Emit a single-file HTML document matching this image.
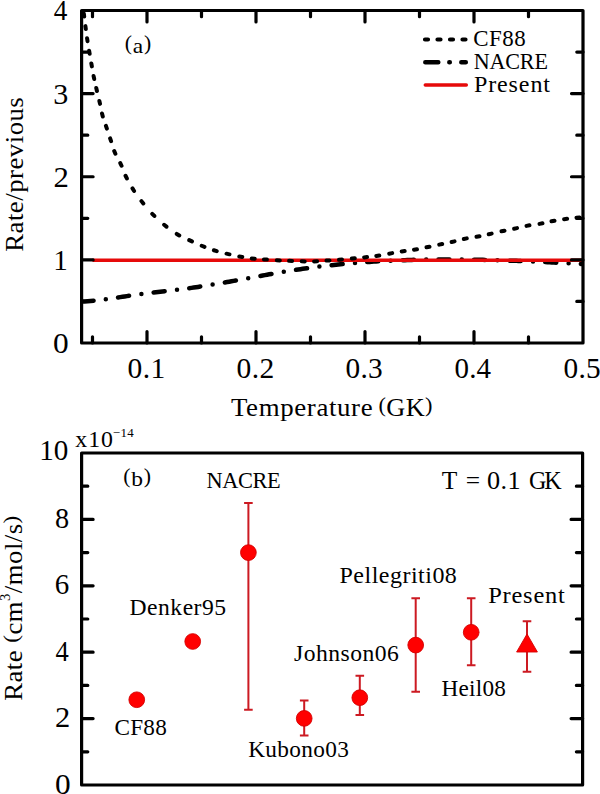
<!DOCTYPE html><html><head><meta charset="utf-8"><style>html,body{margin:0;padding:0;background:#fff;}svg{display:block;}text{font-family:"Liberation Serif", serif;fill:#000;}</style></head><body>
<svg width="600" height="794" viewBox="0 0 600 794">
<rect width="600" height="794" fill="#fff"/>
<defs><clipPath id="ca"><rect x="81.6" y="10.5" width="501.4" height="332.5"/></clipPath></defs>
<g clip-path="url(#ca)" fill="none">
<path d="M78.60,301.73 L81.59,301.61 L84.58,301.44 L87.57,301.24 L90.56,300.99 L93.55,300.71 M118.05,297.49 L120.25,297.15 L122.45,296.81 L124.65,296.47 L126.85,296.13 L129.05,295.80 M153.65,292.42 L155.85,292.16 L158.05,291.90 L160.25,291.65 L162.45,291.40 L164.65,291.15 M189.25,288.18 L191.45,287.88 L193.65,287.56 L195.85,287.25 L198.05,286.92 L200.25,286.59 M224.85,282.48 L227.05,282.09 L229.25,281.69 L231.45,281.30 L233.65,280.89 L235.85,280.49 M260.45,275.93 L262.65,275.53 L264.85,275.13 L267.05,274.73 L269.25,274.33 L271.45,273.94 M296.05,269.83 L298.25,269.50 L300.45,269.17 L302.65,268.85 L304.85,268.54 L307.05,268.23 M331.65,265.19 L333.85,264.96 L336.05,264.73 L338.25,264.50 L340.45,264.28 L342.65,264.07 M367.25,262.05 L369.45,261.90 L371.65,261.75 L373.85,261.61 L376.05,261.48 L378.25,261.35 M402.85,260.21 L405.05,260.13 L407.25,260.06 L409.45,259.99 L411.65,259.93 L413.85,259.87 M438.45,259.48 L440.65,259.47 L442.85,259.46 L445.05,259.46 L447.25,259.45 L449.45,259.46 M474.05,259.69 L476.25,259.72 L478.45,259.77 L480.65,259.81 L482.85,259.86 L485.05,259.91 M509.65,260.63 L511.85,260.71 L514.05,260.79 L516.25,260.87 L518.45,260.95 L520.65,261.04 M545.25,262.12 L547.45,262.23 L549.65,262.33 L551.85,262.44 L554.05,262.55 L556.25,262.66 M580.85,263.97 L583.05,264.09 L585.25,264.22 L587.45,264.34 L589.65,264.46 L591.85,264.59 M105.80,299.26 l0.01,0 M141.40,293.98 l0.01,0 M177.00,289.73 l0.01,0 M212.60,284.61 l0.01,0 M248.20,278.20 l0.01,0 M283.80,271.80 l0.01,0 M319.40,266.61 l0.01,0 M355.00,262.97 l0.01,0 M390.60,260.70 l0.01,0 M426.20,259.62 l0.01,0 M461.80,259.52 l0.01,0 M497.40,260.23 l0.01,0 M533.00,261.56 l0.01,0 M568.60,263.31 l0.01,0" stroke="#000" stroke-width="4.5" stroke-linecap="round"/>
<path d="M92.5,260.3 H583.0" stroke="#e60a0a" stroke-width="3.5"/>
<path d="M83.81,13.61 L84.19,16.59 M85.40,26.11 L85.80,29.09 M87.07,38.22 L87.53,41.18 M89.15,50.82 L89.65,53.78 M91.34,63.42 L91.86,66.38 M93.60,76.03 L94.20,78.97 M96.26,88.04 L96.94,90.96 M99.37,100.94 L100.03,103.86 M102.01,113.55 L102.79,116.45 M105.93,125.78 L106.87,128.62 M110.13,138.38 L111.07,141.22 M114.22,151.02 L115.38,153.78 M120.27,163.04 L121.53,165.76 M125.54,175.75 L126.86,178.45 M132.49,188.44 L134.11,190.96 M141.47,201.13 L143.33,203.47 M152.25,213.83 L154.35,215.97 M164.13,224.76 L166.47,226.64 M176.71,233.93 L179.29,235.47 M189.24,240.17 L191.96,241.43 M201.71,245.74 L204.49,246.86 M213.87,250.26 L216.73,251.14 M226.54,253.66 L229.46,254.34 M239.32,256.43 L242.28,256.97 M251.71,258.43 L254.69,258.77 M263.90,259.40 L266.90,259.60 M276.80,260.22 L279.80,260.38 M289.10,260.84 L292.10,260.96 M301.70,261.32 L304.70,261.38 M314.10,261.40 L317.10,261.30 M326.50,260.61 L329.50,260.39 M339.01,259.72 L341.99,259.48 M351.81,258.54 L354.79,258.26 M364.11,257.41 L367.09,257.09 M376.32,255.93 L379.28,255.47 M389.22,253.66 L392.18,253.14 M401.72,251.48 L404.68,251.02 M414.02,249.75 L416.98,249.25 M426.53,247.30 L429.47,246.70 M439.23,244.61 L442.17,243.99 M451.64,242.03 L454.56,241.37 M463.83,239.01 L466.77,238.39 M476.53,236.78 L479.47,236.22 M488.74,234.22 L491.66,233.58 M501.53,231.32 L504.47,230.68 M514.13,228.72 L517.07,228.08 M526.53,225.88 L529.47,225.32 M539.52,223.87 L542.48,223.33 M551.53,221.28 L554.47,220.72 M564.11,219.20 L567.09,218.80 M576.51,217.77 L579.49,217.43" stroke="#000" stroke-width="4.0" stroke-linecap="round"/>
</g>
<path d="M92.50,343.00 v-6.20 M92.50,10.50 v6.20 M147.00,343.00 v-11.50 M147.00,10.50 v11.50 M201.50,343.00 v-6.20 M201.50,10.50 v6.20 M256.00,343.00 v-11.50 M256.00,10.50 v11.50 M310.50,343.00 v-6.20 M310.50,10.50 v6.20 M365.00,343.00 v-11.50 M365.00,10.50 v11.50 M419.50,343.00 v-6.20 M419.50,10.50 v6.20 M474.00,343.00 v-11.50 M474.00,10.50 v11.50 M528.50,343.00 v-6.20 M528.50,10.50 v6.20 M81.60,301.44 h6.20 M583.00,301.44 h-6.20 M81.60,259.88 h11.50 M583.00,259.88 h-11.50 M81.60,218.31 h6.20 M583.00,218.31 h-6.20 M81.60,176.75 h11.50 M583.00,176.75 h-11.50 M81.60,135.19 h6.20 M583.00,135.19 h-6.20 M81.60,93.62 h11.50 M583.00,93.62 h-11.50 M81.60,52.06 h6.20 M583.00,52.06 h-6.20" stroke="#000" stroke-width="3.2" stroke-linecap="round" fill="none"/>
<rect x="81.60" y="10.50" width="501.40" height="332.50" fill="none" stroke="#000" stroke-width="3.2" stroke-linejoin="round"/>
<path d="M425,39.5 H467" stroke="#000" stroke-width="4.2" stroke-linecap="round" stroke-dasharray="3 9.5" fill="none"/>
<path d="M425.3,62.2 H465.8" stroke="#000" stroke-width="4.5" stroke-linecap="round" stroke-dasharray="13 11 0.5 11.5" fill="none"/>
<path d="M425.3,85 H466.3" stroke="#e60a0a" stroke-width="3.5" stroke-linecap="round" fill="none"/>
<path d="M81.60,751.80 h6.20 M582.60,751.80 h-6.20 M81.60,718.60 h11.50 M582.60,718.60 h-11.50 M81.60,685.40 h6.20 M582.60,685.40 h-6.20 M81.60,652.20 h11.50 M582.60,652.20 h-11.50 M81.60,619.00 h6.20 M582.60,619.00 h-6.20 M81.60,585.80 h11.50 M582.60,585.80 h-11.50 M81.60,552.60 h6.20 M582.60,552.60 h-6.20 M81.60,519.40 h11.50 M582.60,519.40 h-11.50 M81.60,486.20 h6.20 M582.60,486.20 h-6.20" stroke="#000" stroke-width="3.2" stroke-linecap="round" fill="none"/>
<rect x="81.60" y="453.00" width="501.00" height="332.00" fill="none" stroke="#000" stroke-width="3.2" stroke-linejoin="round"/>
<circle cx="136.75" cy="699.75" r="7.85" fill="#ff0000" stroke="#d40000" stroke-width="0.9"/>
<circle cx="192.70" cy="641.50" r="7.85" fill="#ff0000" stroke="#d40000" stroke-width="0.9"/>
<path d="M248.40,502.90 V709.80 M244.10,502.90 h8.6 M244.10,709.80 h8.6" stroke="#cc1a22" stroke-width="2" fill="none"/>
<circle cx="248.40" cy="552.60" r="7.85" fill="#ff0000" stroke="#d40000" stroke-width="0.9"/>
<path d="M304.20,700.60 V735.40 M299.90,700.60 h8.6 M299.90,735.40 h8.6" stroke="#cc1a22" stroke-width="2" fill="none"/>
<circle cx="304.20" cy="718.40" r="7.85" fill="#ff0000" stroke="#d40000" stroke-width="0.9"/>
<path d="M359.80,675.70 V715.10 M355.50,675.70 h8.6 M355.50,715.10 h8.6" stroke="#cc1a22" stroke-width="2" fill="none"/>
<circle cx="359.80" cy="697.70" r="7.85" fill="#ff0000" stroke="#d40000" stroke-width="0.9"/>
<path d="M415.70,598.30 V691.80 M411.40,598.30 h8.6 M411.40,691.80 h8.6" stroke="#cc1a22" stroke-width="2" fill="none"/>
<circle cx="415.70" cy="645.10" r="7.85" fill="#ff0000" stroke="#d40000" stroke-width="0.9"/>
<path d="M471.20,598.30 V665.30 M466.90,598.30 h8.6 M466.90,665.30 h8.6" stroke="#cc1a22" stroke-width="2" fill="none"/>
<circle cx="471.20" cy="632.30" r="7.85" fill="#ff0000" stroke="#d40000" stroke-width="0.9"/>
<path d="M527.00,621.30 V671.70 M522.70,621.30 h8.6 M522.70,671.70 h8.6" stroke="#cc1a22" stroke-width="2" fill="none"/>
<path d="M527.00,634.0 L516.60,652.0 L537.40,652.0 Z" fill="#ff0000" stroke="#d40000" stroke-width="0.9" stroke-linejoin="miter"/>
<text transform="translate(53.83,20.00) scale(0.9407,1)" font-size="28.90">4</text>
<text transform="translate(53.30,103.50) scale(1.0417,1)" font-size="28.90">3</text>
<text transform="translate(53.47,186.70) scale(1.0638,1)" font-size="28.90">2</text>
<text transform="translate(53.19,270.00) scale(1.0049,1)" font-size="28.90">1</text>
<text transform="translate(52.91,352.70) scale(1.0857,1)" font-size="28.90">0</text>
<text transform="translate(127.48,378.00) scale(1.0224,1)" font-size="28.90" textLength="37.09" lengthAdjust="spacing">0.1</text>
<text transform="translate(236.50,378.00) scale(1.0224,1)" font-size="28.90" textLength="36.84" lengthAdjust="spacing">0.2</text>
<text transform="translate(345.53,378.00) scale(1.0147,1)" font-size="28.90" textLength="36.61" lengthAdjust="spacing">0.3</text>
<text transform="translate(454.56,378.00) scale(1.0036,1)" font-size="28.90" textLength="36.37" lengthAdjust="spacing">0.4</text>
<text transform="translate(563.57,378.00) scale(1.0147,1)" font-size="28.90" textLength="36.61" lengthAdjust="spacing">0.5</text>
<text transform="translate(39.18,460.20) scale(1.0069,1)" font-size="28.90" textLength="28.99" lengthAdjust="spacing">10</text>
<text transform="translate(55.02,527.70) scale(0.9796,1)" font-size="28.90">8</text>
<text transform="translate(54.74,594.00) scale(1.0041,1)" font-size="28.90">6</text>
<text transform="translate(55.44,660.70) scale(0.9185,1)" font-size="28.90">4</text>
<text transform="translate(54.98,727.00) scale(1.0553,1)" font-size="28.90">2</text>
<text transform="translate(54.91,794.00) scale(1.0857,1)" font-size="28.90">0</text>
<text transform="translate(124.69,52.90) scale(1.0756,1)" font-size="21.80" textLength="24.68" lengthAdjust="spacing"><tspan font-size="20.2" dy="-2.5">(</tspan><tspan dy="2.5">a</tspan><tspan font-size="20.2" dy="-2.5">)</tspan></text>
<text transform="translate(473.17,46.00) scale(1.0288,1)" font-size="22.30" textLength="51.00" lengthAdjust="spacing">CF88</text>
<text transform="translate(473.70,69.20) scale(0.9905,1)" font-size="22.30" textLength="74.91" lengthAdjust="spacing">NACRE</text>
<text transform="translate(473.96,91.70) scale(1.0792,1)" font-size="22.30" textLength="70.43" lengthAdjust="spacing">Present</text>
<text transform="translate(230.97,415.50) scale(1.0502,1)" font-size="25.60" textLength="134.89" lengthAdjust="spacing">Temperature</text>
<text transform="translate(378.47,415.50) scale(1.0253,1)" font-size="25.60" textLength="52.69" lengthAdjust="spacing"><tspan font-size="21.8" dy="-3.1">(</tspan><tspan dy="3.1">GK</tspan><tspan font-size="21.8" dy="-3.1">)</tspan></text>
<text transform="translate(123.19,485.60) scale(1.0769,1)" font-size="21.80" textLength="25.94" lengthAdjust="spacing"><tspan font-size="20.3" dy="-2.4">(</tspan><tspan dy="2.4">b</tspan><tspan font-size="20.3" dy="-2.4">)</tspan></text>
<text transform="translate(206.46,487.80) scale(0.9804,1)" font-size="22.80" textLength="75.76" lengthAdjust="spacing">NACRE</text>
<text transform="translate(441.70,488.80) scale(0.9966,1)" font-size="25.60">T</text>
<text transform="translate(465.86,488.80) scale(0.9917,1)" font-size="25.60">=</text>
<text transform="translate(487.07,488.80) scale(1.0254,1)" font-size="25.60" textLength="32.71" lengthAdjust="spacing">0.1</text>
<text transform="translate(529.06,488.80) scale(0.9406,1)" font-size="25.60" textLength="34.70" lengthAdjust="spacing">GK</text>
<text transform="translate(129.62,615.30) scale(1.0360,1)" font-size="22.80" textLength="93.02" lengthAdjust="spacing">Denker95</text>
<text transform="translate(339.51,583.00) scale(1.0523,1)" font-size="22.80" textLength="111.53" lengthAdjust="spacing">Pellegriti08</text>
<text transform="translate(488.20,602.80) scale(1.0717,1)" font-size="22.80" textLength="71.49" lengthAdjust="spacing">Present</text>
<text transform="translate(294.08,661.40) scale(1.0371,1)" font-size="22.80" textLength="100.94" lengthAdjust="spacing">Johnson06</text>
<text transform="translate(114.48,734.70) scale(1.0179,1)" font-size="22.80" textLength="51.41" lengthAdjust="spacing">CF88</text>
<text transform="translate(441.54,695.80) scale(1.0182,1)" font-size="22.80" textLength="63.21" lengthAdjust="spacing">Heil08</text>
<text transform="translate(248.23,757.40) scale(1.0224,1)" font-size="22.80" textLength="98.42" lengthAdjust="spacing">Kubono03</text>
<text transform="translate(75.34,446.60) scale(1.0515,1)" font-size="22.70" textLength="35.76" lengthAdjust="spacing">x10</text>
<text transform="translate(112.68,436.70) scale(1.0440,1)" font-size="12.40" textLength="20.22" lengthAdjust="spacing">&#8722;14</text>
<text transform="translate(23.05,251.78) rotate(-90) scale(1.0441,1)" font-size="25.60" textLength="148.03" lengthAdjust="spacing">Rate/previous</text>
<text transform="translate(21.70,700.78) rotate(-90) scale(1.0434,1)" font-size="25.60" textLength="177.34" lengthAdjust="spacing">Rate <tspan font-size="22" dy="-3.4">(</tspan><tspan dy="3.4">cm</tspan><tspan dy="-11.5" font-size="14.1">3</tspan><tspan dy="11.5">/mol/s</tspan><tspan font-size="22" dy="-3.4">)</tspan></text>
</svg></body></html>
